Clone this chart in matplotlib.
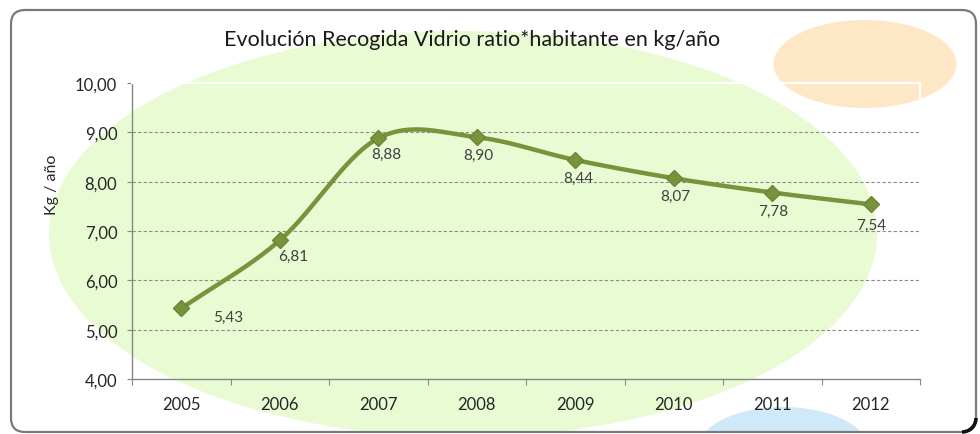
import numpy as np
import matplotlib
matplotlib.use("Agg")
import matplotlib.pyplot as plt
from matplotlib.patches import Ellipse, FancyBboxPatch, Arc

years = ["2005", "2006", "2007", "2008", "2009", "2010", "2011", "2012"]
values = [5.43, 6.81, 8.88, 8.90, 8.44, 8.07, 7.78, 7.54]
labels = ["5,43", "6,81", "8,88", "8,90", "8,44", "8,07", "7,78", "7,54"]
yticks = [4, 5, 6, 7, 8, 9, 10]
title = "Evolución Recogida Vidrio ratio*habitante en kg/año"
ylabel = "Kg / año"

plt.rcParams['font.family'] = ['Lato', 'DejaVu Sans']

W, H = 980, 435
fig = plt.figure(figsize=(W / 100, H / 100), dpi=100)
fig.patch.set_facecolor("white")

# background decoration axes in pixel coords
bg = fig.add_axes([0, 0, 1, 1])
bg.set_xlim(0, W)
bg.set_ylim(H, 0)
bg.axis("off")
frame_kw = dict(boxstyle="round,pad=0,rounding_size=14")
frame = FancyBboxPatch((11, 11), 965, 422, facecolor="white", edgecolor="none", zorder=0, **frame_kw)
bg.add_patch(frame)
for center, w, h, col in [((463, 235), 828, 406, "#e9fbd3"),
                          ((865, 65), 183, 88, "#fde7c6"),
                          ((783, 450), 170, 84, "#cfe9f8")]:
    e = Ellipse(center, w, h, facecolor=col, edgecolor="none", zorder=1)
    bg.add_patch(e)
    e.set_clip_path(frame)
bg.add_patch(FancyBboxPatch((11, 11), 965, 422, facecolor="none", edgecolor="#7a7a7a",
                            linewidth=1.6, zorder=3, **frame_kw))
# dark shadow at the bottom-right corner of the frame
bg.add_patch(Arc((962, 419), 28, 28, theta1=0, theta2=90, color="#111111",
                 linewidth=2.6, zorder=4))

ax = fig.add_axes([132 / W, 1 - 380 / H, 788 / W, 296 / H])
ax.set_facecolor("none")

x = np.arange(len(values))
y = np.array(values, dtype=float)

# Catmull-Rom smoothing (like Excel smoothed line)
pts_x, pts_y = [], []
n = len(y)
for i in range(n - 1):
    p0 = y[i - 1] if i > 0 else y[i]
    p3 = y[i + 2] if i + 2 < n else y[i + 1]
    p1, p2 = y[i], y[i + 1]
    m1 = (p2 - p0) / (2 if i > 0 else 1)
    m2 = (p3 - p1) / (2 if i + 2 < n else 1)
    t = np.linspace(0, 1, 40)
    h00 = 2 * t**3 - 3 * t**2 + 1
    h10 = t**3 - 2 * t**2 + t
    h01 = -2 * t**3 + 3 * t**2
    h11 = t**3 - t**2
    pts_x.extend(x[i] + t)
    pts_y.extend(h00 * p1 + h10 * m1 + h01 * p2 + h11 * m2)

green = "#77933c"
ax.plot(pts_x, pts_y, color=green, linewidth=3.2, solid_capstyle="round", zorder=4)
ax.plot(x, y, linestyle="none", marker="D", markersize=8, color=green,
        markeredgecolor="#6a8535", zorder=5)

offsets = [(34, -6), (10, -11), (6, -11), (1, -13), (2, -13), (1, -13), (1, -13), (0, -15)]
for xi, yi, lab, (dx, dy) in zip(x, y, labels, offsets):
    ax.annotate(lab, (xi, yi), xytext=(dx, dy), textcoords="offset points",
                ha="center", va="center", fontsize=11, color="#404040", zorder=6)

ax.set_xlim(-0.5, len(values) - 0.5)
ax.set_ylim(4, 10)
ax.set_yticks(yticks)
ax.set_yticklabels([f"{v:.2f}".replace(".", ",") for v in yticks], fontsize=12, color="#262626")
ax.set_xticks(np.arange(len(values) + 1) - 0.5)
ax.set_xticklabels([])
ax.set_xticks(x, minor=True)
ax.set_xticklabels(years, minor=True, fontsize=12, color="#262626")
ax.tick_params(axis="x", which="major", length=4.5, color="#868686", direction="out")
ax.tick_params(axis="x", which="minor", length=0, pad=12)
ax.tick_params(axis="y", length=3.6, color="#868686", direction="out", pad=7)

for v in yticks[1:-1]:
    ax.axhline(v, color="#8c8c8c", linewidth=0.8, linestyle=(0, (3, 2)), zorder=2)

for s in ["left", "bottom"]:
    ax.spines[s].set_color("#868686")
    ax.spines[s].set_linewidth(1)
for s in ["top", "right"]:
    ax.spines[s].set_color("white")
    ax.spines[s].set_linewidth(1.5)

ax.set_ylabel(ylabel, fontsize=11.5, color="#262626", va="center")
ax.yaxis.set_label_coords((52 - 132) / 788, (380 - 185) / 296)
fig.text(472 / W, 1 - 40 / H, title, ha="center", va="center", fontsize=15.5, color="#1a1a1a")

fig.savefig("out.png", dpi=100, facecolor="white")
